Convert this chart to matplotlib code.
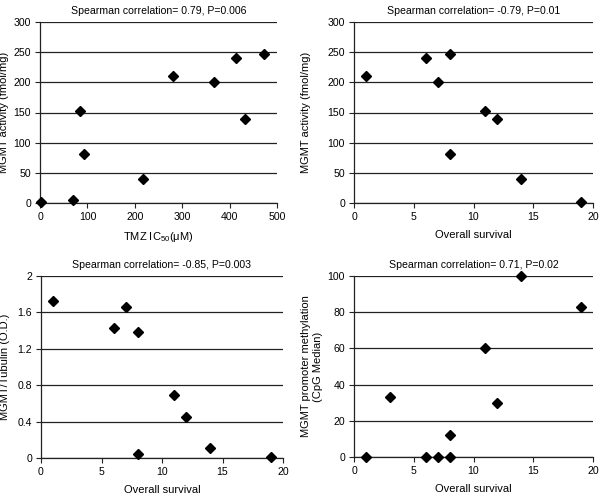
import matplotlib
matplotlib.use("Agg")
import matplotlib.pyplot as plt

plt.rcParams['font.family'] = ['Liberation Sans', 'DejaVu Sans']
plt.rcParams['font.size'] = 8
plt.rcParams['mathtext.fontset'] = 'custom'
plt.rcParams['mathtext.rm'] = 'Liberation Sans'

# Panel A: MGMT activity vs TMZ IC50
a_x = [3, 69, 85, 93, 217, 280, 368, 413, 432, 472]
a_y = [1, 5, 152, 82, 40, 211, 200, 240, 139, 247]
# Panel B: MGMT activity vs overall survival
b_x = [1, 6, 7, 8, 8, 11, 12, 14, 19]
b_y = [210, 240, 200, 247, 82, 152, 139, 40, 1]
# Panel C: MGMT/Tubulin vs overall survival
c_x = [1, 6, 7, 8, 8, 11, 12, 14, 19]
c_y = [1.72, 1.43, 1.66, 1.38, 0.04, 0.69, 0.45, 0.11, 0.01]
# Panel D: promoter methylation vs overall survival
d_x = [1, 3, 6, 7, 8, 8, 11, 12, 14, 19]
d_y = [0, 33, 0, 0, 0, 12, 60, 30, 100, 83]

titles = ["Spearman correlation= 0.79, P=0.006",
          "Spearman correlation= -0.79, P=0.01",
          "Spearman correlation= -0.85, P=0.003",
          "Spearman correlation= 0.71, P=0.02"]
xlabels = ["TMZ IC$_{50}$(\u03bcM)", "Overall survival", "Overall survival", "Overall survival"]
ylabels = ["MGMT activity (fmol/mg)", "MGMT activity (fmol/mg)",
           "MGMT/Tubulin (O.D.)", "MGMT promoter methylation\n(CpG Median)"]
xticks = [[0, 100, 200, 300, 400, 500], [0, 5, 10, 15, 20], [0, 5, 10, 15, 20], [0, 5, 10, 15, 20]]
yticks = [[0, 50, 100, 150, 200, 250, 300], [0, 50, 100, 150, 200, 250, 300],
          [0, 0.4, 0.8, 1.2, 1.6, 2.0], [0, 20, 40, 60, 80, 100]]
yticklabels = [None, None, ["0", "0.4", "0.8", "1.2", "1.6", "2"], None]

W, H = 600, 496
fig = plt.figure(figsize=(6, 4.96), dpi=100)
# pixel boxes (left, top, right, bottom)
boxes = [(40, 22, 277, 203), (354, 22, 593, 203), (41, 276, 283, 458), (354, 276, 593, 457)]
ylabel_right_px = [9, 311, 10, 323]
data = [(a_x, a_y), (b_x, b_y), (c_x, c_y), (d_x, d_y)]

for i in range(4):
    l, t, r, b = boxes[i]
    ax = fig.add_axes([l / W, (H - b) / H, (r - l) / W, (b - t) / H])
    x, y = data[i]
    ax.set_xlim(xticks[i][0], xticks[i][-1])
    ax.set_ylim(yticks[i][0], yticks[i][-1])
    ax.set_xticks(xticks[i])
    ax.set_yticks(yticks[i])
    if yticklabels[i] is not None:
        ax.set_yticklabels(yticklabels[i])
    for yt in yticks[i]:
        ax.axhline(yt, color='#222222', lw=0.9, zorder=1)
    ax.plot(x, y, linestyle='none', marker='D', markersize=4.8, color='black', zorder=3, clip_on=False)
    for s in ['top', 'right']:
        ax.spines[s].set_visible(False)
    for s in ['left', 'bottom']:
        ax.spines[s].set_color('#222222')
        ax.spines[s].set_linewidth(0.9)
    ax.tick_params(direction='out', length=3.5, width=0.8, colors='#222222', labelcolor='black',
                   pad=3, labelsize=7.6)
    ax.set_title(titles[i], fontsize=7.6, pad=6)
    ax.set_xlabel(xlabels[i], labelpad=6)
    ax.set_ylabel(ylabels[i])
    ax.yaxis.set_label_coords((ylabel_right_px[i] - l) / (r - l), 0.5)

fig.savefig("out.png", dpi=100)
